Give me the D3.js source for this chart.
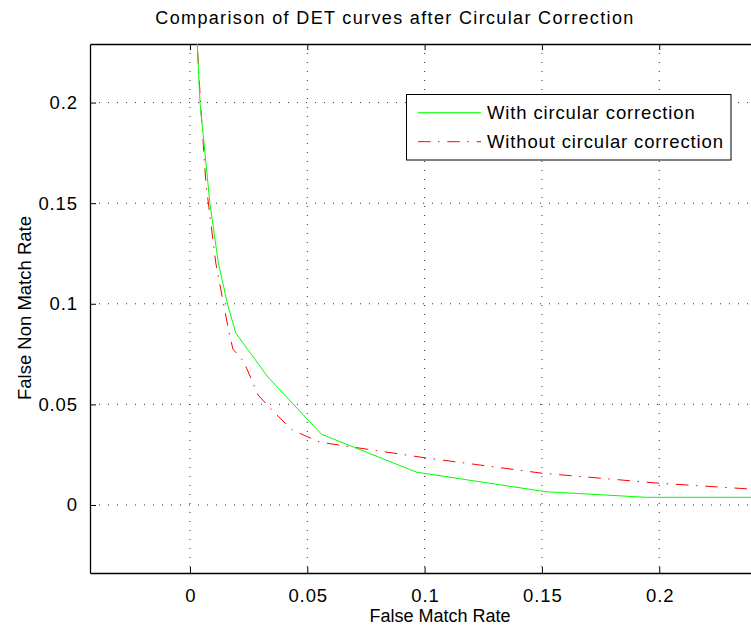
<!DOCTYPE html>
<html><head><meta charset="utf-8">
<script src="https://cdn.jsdelivr.net/npm/d3@7"></script>
<style>body{margin:0;background:#fff;} svg{display:block;font-family:"Liberation Sans",Arial,sans-serif;}</style>
</head><body>
<svg id="c" width="751" height="630"></svg>
<script>
const xTicks = [0, 0.05, 0.1, 0.15, 0.2];
const yTicks = [0, 0.05, 0.1, 0.15, 0.2];
const xTickLabels = ["0", "0.05", "0.1", "0.15", "0.2"];
const yTickLabels = ["0", "0.05", "0.1", "0.15", "0.2"];
const seriesNames = ["With circular correction", "Without circular correction"];
const withFMR =    [0.0026, 0.0031, 0.0043, 0.0085, 0.0121, 0.0160, 0.0195, 0.0332, 0.0561, 0.0966, 0.1516, 0.1946, 0.25];
const withFNMR =   [0.240, 0.229, 0.1998, 0.150, 0.1203, 0.0999, 0.0855, 0.0636, 0.0351, 0.0163, 0.0066, 0.0038, 0.0038];
const withoutFMR = [0.0026, 0.0031, 0.0046, 0.0068, 0.0110, 0.0166, 0.0183, 0.0230, 0.0290, 0.0349, 0.0435, 0.0554, 0.0999, 0.150, 0.200, 0.25];
const withoutFNMR= [0.240, 0.229, 0.1978, 0.160, 0.1203, 0.086, 0.0775, 0.0711, 0.0547, 0.0472, 0.0373, 0.0312, 0.0235, 0.0158, 0.0108, 0.0071];

const svg = d3.select("#c");
const L = 90, T = 44, B = 573;
const x = d3.scaleLinear().domain([-0.0426, 0.25]).range([L, L + 0.2926 * 2346.4]);
const y = d3.scaleLinear().domain([-0.0338, 0.2291]).range([B, T]);
const R = x.range()[1];

svg.append("defs").append("clipPath").attr("id","clip")
  .append("rect").attr("x", L).attr("y", T).attr("width", R - L).attr("height", B - T);

// grid
const grid = svg.append("g");
grid.selectAll(".gx").data(xTicks).join("line")
  .attr("x1", d => x(d)).attr("x2", d => x(d)).attr("y1", T).attr("y2", B)
  .attr("stroke", "#333").attr("stroke-width", 1).attr("stroke-dasharray", "1,8");
grid.selectAll(".gy").data(yTicks).join("line")
  .attr("x1", L).attr("x2", R).attr("y1", d => y(d)).attr("y2", d => y(d))
  .attr("stroke", "#333").attr("stroke-width", 1).attr("stroke-dasharray", "1,8");

// axes
const xb = svg.append("g").attr("transform", `translate(0,${B})`)
  .call(d3.axisBottom(x).tickValues(xTicks).tickFormat((d,i)=>xTickLabels[i]).tickSizeInner(-6).tickSizeOuter(0).tickPadding(16));
const xt = svg.append("g").attr("transform", `translate(0,${T})`)
  .call(d3.axisTop(x).tickValues(xTicks).tickFormat("").tickSizeInner(-6).tickSizeOuter(0));
const yl = svg.append("g").attr("transform", `translate(${L},0)`)
  .call(d3.axisLeft(y).tickValues(yTicks).tickFormat((d,i)=>yTickLabels[i]).tickSizeInner(-6).tickSizeOuter(0).tickPadding(12));
[xb, xt, yl].forEach(g => {
  g.select(".domain").attr("stroke", "#000").attr("stroke-width", 1.3);
  g.selectAll(".tick line").attr("stroke", "#000");
  g.selectAll("text").attr("font-size", 18.5).attr("fill", "#000")
    .attr("letter-spacing", 0.9).attr("font-family", "Liberation Sans, Arial, sans-serif");
});
xb.selectAll("text").attr("dx", 0.45);

// lines
const line = d3.line().x(d => x(d[0])).y(d => y(d[1]));
const plot = svg.append("g").attr("clip-path", "url(#clip)");
plot.append("path").datum(withoutFMR.map((v,i)=>[v, withoutFNMR[i]]))
  .attr("d", line).attr("fill","none").attr("stroke","#ff0000").attr("stroke-width",1)
  .attr("stroke-dasharray","12.5,7.5,1.5,7.8");
plot.append("path").datum(withFMR.map((v,i)=>[v, withFNMR[i]]))
  .attr("d", line).attr("fill","none").attr("stroke","#00ff00").attr("stroke-width",1);

// legend
const lg = svg.append("g");
lg.append("rect").attr("x", 406.5).attr("y", 94.5).attr("width", 324.5).attr("height", 65.5)
  .attr("fill", "#fff").attr("stroke", "#000").attr("stroke-width", 1);
const lgY = [112.7, 141.7];
const lgColors = ["#00ff00", "#ff0000"];
const lgDash = [null, "12.5,7.5,1.5,7.8"];
seriesNames.forEach((n, i) => {
  lg.append("line").attr("x1", 418).attr("x2", 481).attr("y1", lgY[i]).attr("y2", lgY[i])
    .attr("stroke", lgColors[i]).attr("stroke-width", 1).attr("stroke-dasharray", lgDash[i]);
  lg.append("text").attr("x", 487).attr("y", lgY[i]).attr("dy", "0.35em")
    .attr("font-size", 18.5).attr("letter-spacing", 0.85).attr("fill", "#000").text(n);
});

// titles
svg.append("text").attr("x", 395).attr("y", 24).attr("text-anchor", "middle")
  .attr("font-size", 18).attr("letter-spacing", 1.35)
  .attr("fill", "#000").text("Comparison of DET curves after Circular Correction");
svg.append("text").attr("x", 440).attr("y", 622).attr("text-anchor", "middle")
  .attr("font-size", 18).attr("fill", "#000").text("False Match Rate");
svg.append("text").attr("transform", "translate(31,308) rotate(-90)").attr("text-anchor", "middle")
  .attr("font-size", 18.5).attr("fill", "#000").text("False Non Match Rate");
</script>
</body></html>
